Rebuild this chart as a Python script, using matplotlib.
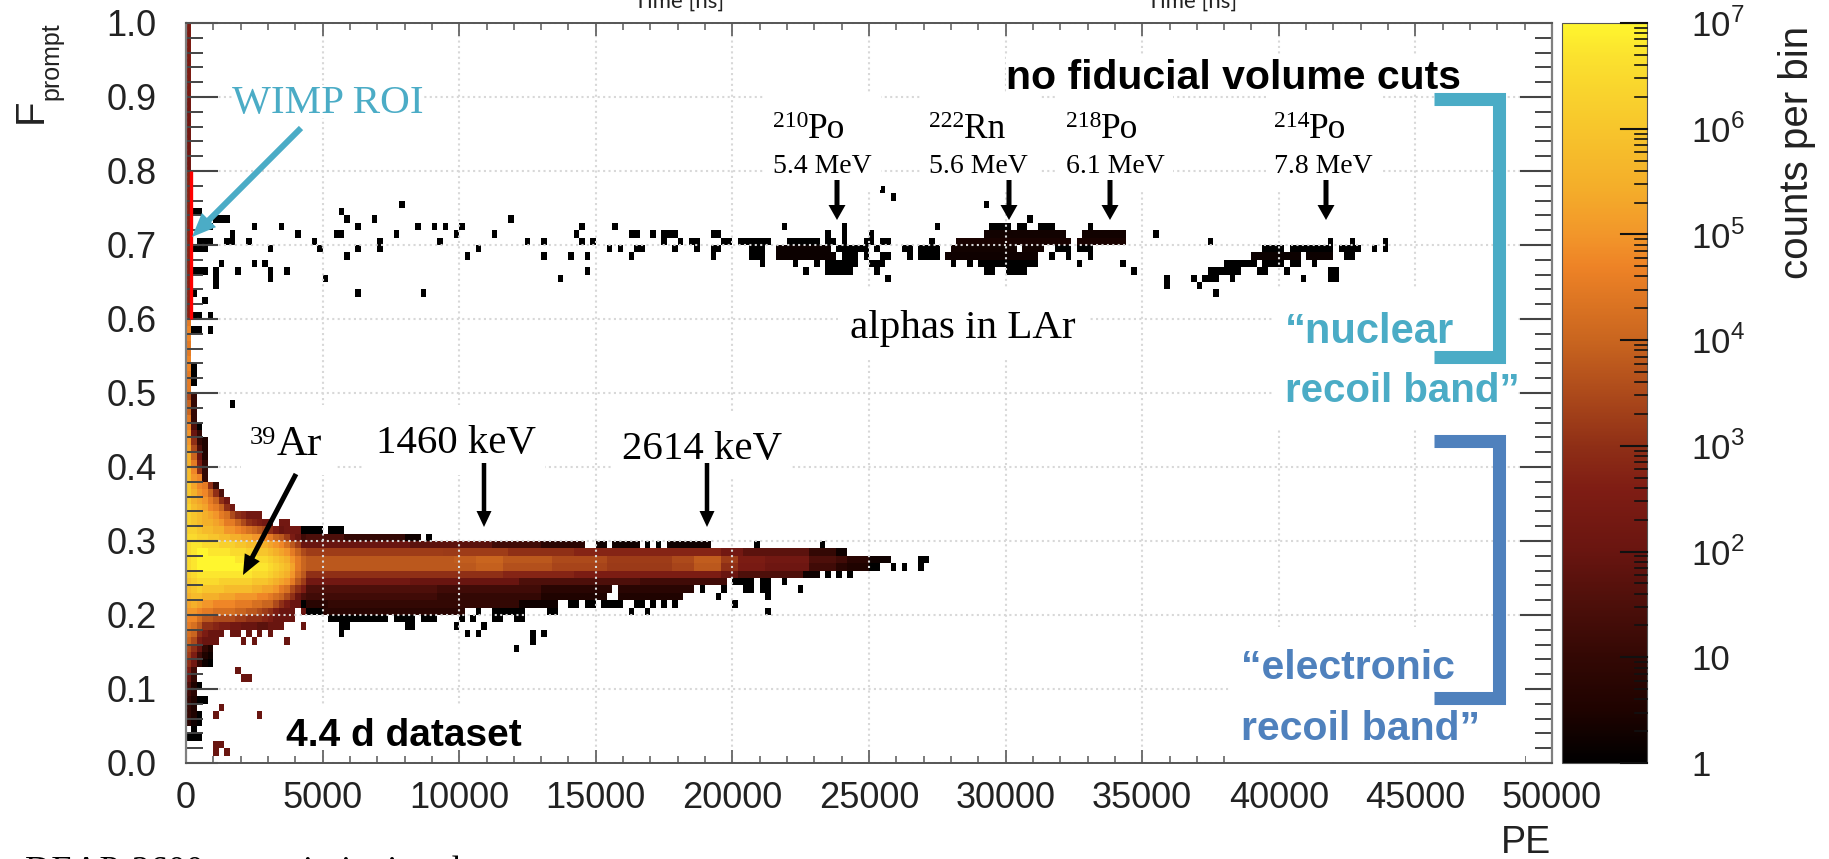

import matplotlib

matplotlib.use("Agg")
import matplotlib.pyplot as plt
import numpy as np
from matplotlib.colors import LinearSegmentedColormap, LogNorm
from matplotlib.patches import Polygon, Rectangle
from matplotlib.ticker import MultipleLocator, NullLocator
from matplotlib.transforms import Affine2D

plt.rcParams["font.family"] = ["Liberation Sans", "DejaVu Sans"]
plt.rcParams["mathtext.fontset"] = "custom"
plt.rcParams["mathtext.rm"] = "Liberation Sans"

PE_BIN = 200
F_BIN = 0.01

# log10(counts) per colour-bar position
cbar_logs = [0, 0.5, 1, 1.5, 2, 2.6, 3, 3.5, 4, 4.7, 5, 5.45, 6, 6.7, 7]
cbar_colors = ["#000000", "#1f0300", "#330804", "#4d0f0a", "#691510", "#7f1d14", "#8f2f16", "#ad4a1b",
               "#c9651f", "#ee8326", "#f2962a", "#f4ae2a", "#f7c52c", "#fbe22e", "#fff62e"]

# low-PE blob, one character per 200 PE bin from PE=0; value = LEVELS.index(c) * 0.25 in log10(counts)
LEVELS = "0123456789abcdefghijklmnopqrs"
blob_top_row = 49
blob_rows = [
    "e4", "g4", "g4", "i4", "j60", "k84", "kc42", "le62", "mg82", "mia4", "njc4",
    "nkj4", "oljic4", "omkjgc6", "omlkigc9", "pnmljigc9",
    "ponmlkihecb999",
    "ponmmlkiigecba99.99",
    "pponnmmkkjihgfeca8999.",
    "qqppoonnmmllkkjigfda85",
    "qrrqqqpppoonnmmlkjhfd8",
    "qrssrrrrqqqppoonmlkige",
    "qrsssssssrrrrqqponmkig",
    "qrssssssssssrrrqponlig",
    "pqrrrrrrrrrrqqqponmkhf",
    "opqqqqppppppooonmlkifd",
    "nopoooonnnnnmmllkiheca",
    "mnnmmmlllkkkkjjihgec86",
    "lmlkkjjjjiiihhggeca880",
    "kkjiihhhhggffedca888.8",
    "jjhffeeeeddcccba8888..",
    "ihfccbaa9988877888...8",
    "hgca888.88.8.8.8......",
    "gea888....8.8.....8...",
    "ec842", "da521", "c9410", "a5.......8", "84........88", "620", "53", "4200",
    "42....8", "420..8.......8", "310", ".0", "000", ".....88", ".....8.8",
]

# spike in the first PE bin, Fprompt rows 50-99
spike_rows_low = list(range(50, 60))
spike_low = [4.5, 4.5, 4.5, 4.75, 4.75, 4.5, 4.5, 4.75, 4.75, 4.5]
spike_rows_high = list(range(60, 100))
spike_high = [2.75] * 20 + [2.25] * 10 + [2.5] * 10

# long electron band: (first bin, last bin, log10 counts); a bare int or pair is a black cell/run
band_f31 = [(21, 24), (26, 28)]
band_f30 = [(22, 28, 1.5), (29, 39, 1.0), (40, 42, 0.25), 44]
band_f29 = [(22, 40, 2.0), (41, 55, 1.75), (56, 64, 1.25), (65, 72, 0.75), (75, 76, 0.25), (78, 82, 0.25),
            84, 86, (88, 95, 0.25), 104, 116]
band_f28 = [(22, 46, 3.25), (47, 49, 3.2), (50, 58, 3.25), (59, 70, 3.0), (71, 97, 2.75), (98, 101, 2.25),
            (102, 113, 1.75), (114, 118, 1.0), (119, 120, 0.25)]
band_f27 = [(22, 48, 3.75), (49, 52, 3.85), (53, 57, 4.0), (58, 66, 3.75), (67, 76, 3.5), (77, 88, 3.25),
            (89, 92, 3.5), (93, 97, 3.85), (98, 100, 3.25), (101, 105, 2.5), (106, 113, 2.25), (114, 118, 1.5),
            (119, 120, 1.25), (121, 124, 0.75), (125, 128, 0.25), (134, 135)]
band_f26 = [(22, 52, 3.75), (53, 57, 3.9), (58, 66, 3.6), (67, 76, 3.4), (77, 88, 3.2), (89, 92, 3.4),
            (93, 97, 3.75), (98, 100, 3.0), (101, 105, 2.4), (106, 113, 2.1), (114, 118, 1.25), (119, 120, 0.75),
            (121, 124, 0.5), (125, 126), 129, 131, 134]
band_f25 = [(22, 57, 3.0), (58, 70, 2.75), (71, 97, 2.5), (98, 100, 2.0), (101, 112, 1.5), (113, 115, 0.25),
            117, 119, 121]
band_f24 = [(22, 40, 2.25), (41, 60, 2.0), (61, 82, 1.5), (83, 98, 1.25), (100, 103), (105, 106), 109]
band_f23 = [(22, 45, 1.5), (46, 64, 1.25), (65, 77, 0.75), (79, 92, 0.75), 94, 98, (102, 103), (105, 106), 112]
band_f22 = [(22, 45, 1.25), (46, 64, 1.0), (65, 76, 0.5), (79, 90, 0.5), 97, 106]
band_f21 = [(22, 25, 0.75), (26, 60, 1.0), (61, 67, 0.25), (70, 71), (73, 74), (76, 79), (82, 83), 85, 87, 89, 100]
band_f20 = [(22, 24), (25, 50, 0.75), 53, (56, 61), (66, 67), 81, 84, 106]
band_f19 = [(26, 36), (38, 41), (43, 45), 50, 52, (56, 57), (60, 61)]
band_f18 = [(28, 29), (40, 41), 49, 54]
band_f17 = [28, 51, 53, 63, 65]
band_f16 = [63]
band_f15 = [60]

# alpha band and other sparse black cells
alpha_f77 = [127]
alpha_f76 = [129]
alpha_f75 = [39, 146]
alpha_f74 = [(1, 2), 28]
alpha_f73 = [(5, 7), 29, 34, 59, 154]
alpha_f72 = [4, 12, 17, 31, 42, 45, 47, 50, 72, 78, 109, 120, 137, (147, 150), (152, 153), (156, 158), 165]
alpha_f71 = [8, 20, (27, 28), 38, 49, 56, 71, (81, 82), 85, (87, 89), (96, 97), 117, 120, 125,
             (146, 160, 0.3), (164, 171, 0.3), 177]
alpha_f70 = [(2, 4), (7, 8), 11, 23, 35, 46, 62, 65, 72, 74, 87, 90, (92, 93), (98, 99), (101, 106), (110, 115),
             (117, 118), 120, (124, 125), (127, 128), 136, (141, 161, 0.4), (163, 171, 0.4), 187, 209, 213, 219]
alpha_f69 = [(1, 3), 15, 24, 31, 35, 53, 77, 79, (82, 83), 89, 93, (96, 97), (103, 105), (108, 117, 0.2),
             (119, 124), 126, (131, 132), (134, 137), (140, 151, 0.3), (153, 156, 0.3), (159, 161), (163, 165),
             (197, 200), (202, 209), (211, 214), 217, 219]
alpha_f68 = [29, 51, 65, 70, 73, 81, 96, (103, 105), (108, 118, 0.2), (120, 122), 124, (127, 128), 132,
             (134, 137), (139, 155, 0.25), 158, 161, 165, (195, 203, 0.2), (205, 209, 0.2), (212, 213)]
alpha_f67 = [6, 12, 14, 105, 111, 115, (117, 122), (125, 127), 140, 143, (145, 155), 163, 171, (190, 195),
             (197, 200), (202, 203), 206]
alpha_f66 = [(1, 3), 5, 9, 15, 18, 73, 113, (117, 121), 126, (146, 147), (150, 153), 173, (187, 192), (196, 197),
             201, (209, 210)]
alpha_f65 = [5, 15, 25, 68, 128, 179, 184, (186, 188), 191, 204, (209, 210)]
alpha_f64 = [5, 179, 185]
alpha_f63 = [1, 31, 43, 188]
alpha_f62 = [3]
alpha_f60 = [(1, 2), 4]
alpha_f58 = [(1, 2), 4]
alpha_f53 = [1]
alpha_f52 = [1]
alpha_f51 = [1]
alpha_f48 = [8]

sparse_rows = {
    31: band_f31, 30: band_f30, 29: band_f29, 28: band_f28, 27: band_f27, 26: band_f26, 25: band_f25,
    24: band_f24, 23: band_f23, 22: band_f22, 21: band_f21, 20: band_f20, 19: band_f19, 18: band_f18,
    17: band_f17, 16: band_f16, 15: band_f15, 77: alpha_f77, 76: alpha_f76, 75: alpha_f75, 74: alpha_f74,
    73: alpha_f73, 72: alpha_f72, 71: alpha_f71, 70: alpha_f70, 69: alpha_f69, 68: alpha_f68, 67: alpha_f67,
    66: alpha_f66, 65: alpha_f65, 64: alpha_f64, 63: alpha_f63, 62: alpha_f62, 60: alpha_f60, 58: alpha_f58,
    53: alpha_f53, 52: alpha_f52, 51: alpha_f51, 48: alpha_f48,
}

x_ticks = list(range(0, 50001, 5000))
y_ticks = [round(0.1 * i, 1) for i in range(11)]
cbar_ticks = [1, 10, 1e2, 1e3, 1e4, 1e5, 1e6, 1e7]
cbar_minor = [m * 10 ** e for e in range(7) for m in range(2, 10)]
cbar_labels = ["1", "10", "$10^{2}$", "$10^{3}$", "$10^{4}$", "$10^{5}$", "$10^{6}$", "$10^{7}$"]

isotopes = [("210", "Po", "5.4 MeV", 773, 837), ("222", "Rn", "5.6 MeV", 929, 1009),
            ("218", "Po", "6.1 MeV", 1066, 1110), ("214", "Po", "7.8 MeV", 1274, 1326)]

TEAL = "#4bacc6"
BLUE = "#4f81bd"
SERIF = "Liberation Serif"


def build_hist():
    logc = np.full((100, 250), np.nan)
    for i, text in enumerate(blob_rows):
        row = blob_top_row - i
        for b, c in enumerate(text):
            if c != ".":
                logc[row, b] = LEVELS.index(c) * 0.25
    for row, val in zip(spike_rows_low + spike_rows_high, spike_low + spike_high):
        logc[row, 0] = val
    for row, runs in sparse_rows.items():
        for run in runs:
            if isinstance(run, int):
                logc[row, run] = 0.0
            elif len(run) == 2:
                logc[row, run[0]:run[1] + 1] = 0.0
            else:
                logc[row, run[0]:run[1] + 1] = run[2]
    return logc


def arrow(fig, px, x0, y0, x1, y1, width, head_w, head_l, color):
    d = np.array([x1 - x0, y1 - y0], dtype=float)
    d /= np.hypot(*d)
    n = np.array([-d[1], d[0]])
    tip = np.array([x1, y1], dtype=float)
    base = tip - d * head_l
    start = np.array([x0, y0], dtype=float)
    pts = [start + n * width / 2, base + n * width / 2, base + n * head_w / 2, tip,
           base - n * head_w / 2, base - n * width / 2, start - n * width / 2]
    fig.add_artist(Polygon(pts, closed=True, facecolor=color, edgecolor="none", transform=px, zorder=6))


def main():
    fig = plt.figure(figsize=(18.29, 8.59), dpi=100)
    # pixel coordinates of the reference, y down, for annotation layout only
    px = Affine2D().scale(1, -1).translate(0, 859)

    ax = fig.add_axes([186 / 1829, (859 - 763) / 859, 1366 / 1829, 740 / 859])
    cmap = LinearSegmentedColormap.from_list(
        "deap", [(v / 7, c) for v, c in zip(cbar_logs, cbar_colors)], N=512)
    norm = LogNorm(1, 1e7)

    counts = np.ma.masked_invalid(10 ** build_hist())
    xedges = np.arange(251) * PE_BIN
    yedges = np.arange(101) * F_BIN
    mesh = ax.pcolormesh(xedges, yedges, counts, cmap=cmap, norm=norm, zorder=1, linewidth=0, rasterized=True)

    ax.plot([190, 190], [0.6, 0.8], color="#ff0000", lw=2.4, solid_capstyle="butt", zorder=4)

    ax.set_xlim(0, 50000)
    ax.set_ylim(0, 1)
    ax.set_xticks(x_ticks)
    ax.set_yticks(y_ticks)
    ax.xaxis.set_minor_locator(MultipleLocator(1000))
    ax.yaxis.set_minor_locator(MultipleLocator(0.02))
    ax.set_yticklabels([f"{v:.1f}" for v in y_ticks])
    ax.grid(True, which="major", color="#d8d8d8", lw=1.5, ls=(0, (1, 1.6)))
    ax.tick_params(axis="x", which="major", direction="in", top=True, length=9.5, width=1.3, color="#666666",
                   labelsize=26, pad=13, labelcolor="#222222")
    ax.tick_params(axis="x", which="minor", direction="in", top=True, length=5, width=1.2, color="#666666")
    ax.tick_params(axis="y", which="major", direction="in", right=True, length=23, width=1.5, color="#444444",
                   labelsize=26, pad=21, labelcolor="#222222")
    ax.tick_params(axis="y", which="minor", direction="in", right=True, length=12, width=1.4, color="#444444")
    for side in ["left", "right"]:
        ax.spines[side].set_color("#808080")
        ax.spines[side].set_linewidth(1.6)
    for side in ["top", "bottom"]:
        ax.spines[side].set_color("#555555")
        ax.spines[side].set_linewidth(1.4)
        ax.spines[side].set_linestyle((0, (1, 1)))

    # white boxes behind the pasted labels hide the grid there
    white_boxes = [(232, 85, 422, 118), (241, 405, 335, 475), (364, 405, 545, 475), (612, 412, 791, 477),
                   (765, 92, 881, 190), (921, 92, 1039, 190), (1057, 92, 1173, 190), (1267, 92, 1381, 190),
                   (1006, 55, 1461, 92), (838, 287, 1088, 358), (1273, 287, 1518, 428), (1231, 627, 1525, 762),
                   (282, 705, 530, 750)]
    for x0, y0, x1, y1 in white_boxes:
        ax.add_patch(Rectangle((x0, y0), x1 - x0, y1 - y0, facecolor="white", edgecolor="none",
                               transform=px, zorder=3))

    cax = fig.add_axes([1562 / 1829, (859 - 763) / 859, 85 / 1829, 740 / 859])
    cb = fig.colorbar(mesh, cax=cax)
    cb.outline.set_edgecolor("#555555")
    cb.outline.set_linewidth(0.8)
    cb.set_ticks(cbar_ticks)
    cb.set_ticklabels(cbar_labels)
    cax.yaxis.set_minor_locator(NullLocator())
    cax.tick_params(which="major", length=0, labelsize=25, pad=32, labelcolor="#222222")
    cax.set_ylim(1, 1e7)
    # tick marks inside the bar, from its right edge, drawn over the whole bar axes
    to_bar = cax.get_yaxis_transform()
    for v in cbar_ticks:
        fig.add_artist(plt.Line2D([1 - 26 / 85, 1], [v, v], color="#111111", lw=1.5, transform=to_bar, zorder=7))
    for v in cbar_minor:
        fig.add_artist(plt.Line2D([1 - 12 / 85, 1], [v, v], color="#111111", lw=1.2, transform=to_bar, zorder=7))

    # axis titles
    fig.text(42, 123, "F", transform=px, rotation=90, fontsize=29, ha="left", va="baseline", color="#222222",
             rotation_mode="anchor")
    fig.text(58, 100, "prompt", transform=px, rotation=90, fontsize=18, ha="left", va="baseline", color="#222222",
             rotation_mode="anchor")
    fig.text(1551, 853, "PE", transform=px, fontsize=27, ha="right", va="baseline", color="#222222")
    fig.text(1808, 279, "counts per bin", transform=px, rotation=90, fontsize=29, ha="left", va="baseline",
             color="#222222", rotation_mode="anchor")

    # clipped leftovers of the slide
    for x0 in [634, 1147]:
        fig.text(x0, 8, "Time [ns]", transform=px, fontsize=16, family="Lato", color="#222222", va="baseline")
    fig.text(25, 881, "DEAP-3600 commissioning data", transform=px, fontsize=26, family=SERIF, color="black",
             va="baseline")

    # annotations
    fig.text(232, 113, "WIMP ROI", transform=px, fontsize=29.6, family=SERIF, color=TEAL, va="baseline")
    arrow(fig, px, 301, 128, 192, 237, 6, 20, 24, TEAL)

    fig.text(250, 444, "39", transform=px, fontsize=19, family=SERIF, va="baseline")
    fig.text(277, 455, "Ar", transform=px, fontsize=31, family=SERIF, va="baseline")
    arrow(fig, px, 296, 474, 243, 575, 5, 17, 20, "black")

    fig.text(376, 453, "1460 keV", transform=px, fontsize=29.4, family=SERIF, va="baseline")
    arrow(fig, px, 484, 463, 484, 527, 4.5, 15, 16, "black")
    fig.text(622, 459, "2614 keV", transform=px, fontsize=29.4, family=SERIF, va="baseline")
    arrow(fig, px, 707, 463, 707, 527, 4.5, 15, 16, "black")

    for sup, sym, energy, x0, xa in isotopes:
        fig.text(x0, 127, sup, transform=px, fontsize=17, family=SERIF, va="baseline")
        fig.text(x0 + 35, 138, sym, transform=px, fontsize=25.5, family=SERIF, va="baseline")
        fig.text(x0, 173, energy, transform=px, fontsize=20, family=SERIF, va="baseline")
        arrow(fig, px, xa, 180, xa, 220, 5, 17, 15, "black")

    fig.text(850, 338, "alphas in LAr", transform=px, fontsize=29.5, family=SERIF, va="baseline")
    fig.text(1006, 89, "no fiducial volume cuts", transform=px, fontsize=29.5, weight="bold", va="baseline")
    fig.text(286, 746, "4.4 d dataset", transform=px, fontsize=28, weight="bold", va="baseline")

    fig.text(1285, 343, "\u201cnuclear", transform=px, fontsize=30, weight="bold", color=TEAL, va="baseline")
    fig.text(1285, 402, "recoil band\u201d", transform=px, fontsize=29, weight="bold", color=TEAL, va="baseline")
    fig.text(1241, 679, "\u201celectronic", transform=px, fontsize=29.5, weight="bold", color=BLUE, va="baseline")
    fig.text(1241, 740, "recoil band\u201d", transform=px, fontsize=29.5, weight="bold", color=BLUE, va="baseline")

    # brackets
    for color, top, bottom in [(TEAL, 98.5, 356.5), (BLUE, 440.5, 698)]:
        fig.add_artist(plt.Line2D([1434, 1499, 1499, 1434], [top, top, bottom, bottom], color=color, lw=9.4,
                                  solid_joinstyle="miter", solid_capstyle="butt", transform=px, zorder=5))

    fig.savefig("out.png", dpi=100)


if __name__ == "__main__":
    main()
